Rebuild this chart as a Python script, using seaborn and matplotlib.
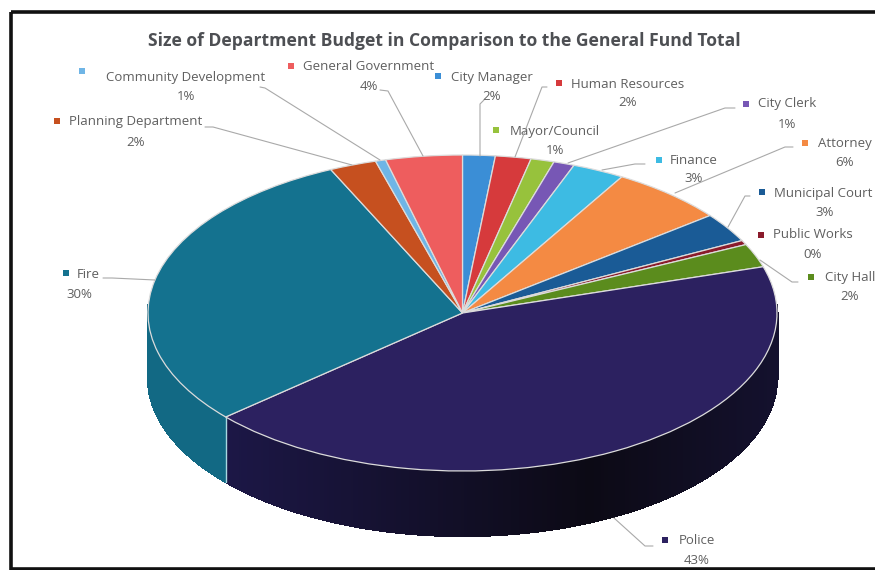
import numpy as np
import matplotlib
matplotlib.use("Agg")
import matplotlib.pyplot as plt
from matplotlib.colors import to_rgb
from matplotlib.patches import Rectangle
import seaborn as sns

TITLE = "Size of Department Budget in Comparison to the General Fund Total"

departments = ["City Manager", "Human Resources", "Mayor/Council", "City Clerk", "Finance",
               "Attorney", "Municipal Court", "Public Works", "City Hall", "Police", "Fire",
               "Planning Department", "Community Development", "General Government"]
budget_share = [1.67, 1.83, 1.2, 1.07, 2.69, 5.96, 3.0, 0.45, 2.4, 43.3, 29.55, 2.42, 0.53, 3.93]
slice_colors = ["#3b8ed6", "#d63a3c", "#97c23c", "#7757b5", "#3dbbe3", "#f48a43", "#1a5b96",
                "#8a1b2b", "#5b8c1d", "#2c2160", "#14728f", "#c6501f", "#6fb5e6", "#ee5d5e"]

# Label layout in pixels: name centre, percent centre, legend key, leader polyline
layout = {
    "City Manager": ((492, 77), (492, 97), (438, 76), [(484, 100), (480, 104), (480, 156)]),
    "Human Resources": ((628, 84), (628, 103), (559, 83), [(547, 87), (542, 87), (515, 157)]),
    "Mayor/Council": ((555, 131), (555, 151), (496, 130), None),
    "City Clerk": ((787, 104), (787, 124), (746, 104), [(735, 108), (725, 108), (568, 163)]),
    "Finance": ((694, 160), (694, 179), (659, 160), [(645, 164), (635, 164), (602, 170)]),
    "Attorney": ((845, 143), (845, 163), (805, 143), [(793, 147), (785, 147), (675, 193)]),
    "Municipal Court": ((823, 193), (825, 212), (762, 192), [(750, 196), (745, 196), (728, 227)]),
    "Public Works": ((813, 235), (813, 255), (761, 235), None),
    "City Hall": ((850, 278), (850, 297), (811, 277), [(798, 282), (792, 282), (760, 260)]),
    "Police": ((697, 540), (697, 560), (665, 540), [(653, 546), (645, 546), (614, 518)]),
    "Fire": ((88, 274), (79, 294), (66, 273), [(103, 278), (112, 278), (155, 280)]),
    "Planning Department": ((136, 122), (136, 142), (57, 121), [(205, 127), (213, 127), (352, 165)]),
    "Community Development": ((186, 77), (186, 97), (82, 71), [(260, 87), (265, 88), (380, 160)]),
    "General Government": ((369, 67), (369, 87), (291, 66), [(380, 90), (388, 91), (423, 156)]),
}

CX, CY, RX, RY, DEPTH = 462.5, 313.0, 314.5, 158.0, 65.0

sns.set_theme(style="white")
plt.rcParams["font.family"] = ["Open Sans", "DejaVu Sans"]
palette = sns.color_palette(slice_colors)

fig = plt.figure(figsize=(8.75, 5.7), dpi=100, facecolor="white")
ax = fig.add_axes([0, 0, 1, 1])

# Rim of the disc: overlapping strips along the front half of each slice,
# shaded by horizontal position
shares = np.array(budget_share) / sum(budget_share)
edges = np.concatenate([[0], np.cumsum(shares)]) * 2 * np.pi
drop = DEPTH / RY


def rim_shade(name, x):
    if name == "Police":
        dark = np.array(to_rgb("#0c0a15"))
        left = np.array(to_rgb("#1c1746"))
        right = np.array(to_rgb("#14112e"))
        if x < 0.4:
            return left + (dark - left) * np.clip((x + 0.75) / 1.15, 0, 1)
        return dark + (right - dark) * np.clip((x - 0.4) / 0.6, 0, 1)
    return np.array(palette[departments.index(name)]) * 0.92


for i, name in enumerate(departments):
    thetas = np.linspace(edges[i], edges[i + 1], max(2, int((edges[i + 1] - edges[i]) * 120)))
    for a, b in zip(thetas[:-1], thetas[1:]):
        if np.cos(a) > 0.05 and np.cos(b) > 0.05:
            continue
        xs = [np.sin(a), np.sin(b), np.sin(b), np.sin(a)]
        ys = [np.cos(a), np.cos(b), np.cos(b) - drop, np.cos(a) - drop]
        col = rim_shade(name, 0.5 * (np.sin(a) + np.sin(b)))
        ax.fill(xs, ys, facecolor=col, edgecolor=col, lw=0.9, antialiased=False, zorder=1)

# Seam where the two largest slices meet on the rim
seam = edges[departments.index("Police") + 1]
ax.plot([np.sin(seam)] * 2, [np.cos(seam), np.cos(seam) - drop], color="#a8d8e0", lw=1.0, zorder=2)

wedges, _ = ax.pie(budget_share, colors=palette, startangle=90, counterclock=False, radius=1,
                   wedgeprops={"edgecolor": "#dcdcdc", "linewidth": 0.9, "zorder": 3})
ax.set_aspect("auto")
ax.set_xlim((0 - CX) / RX, (875 - CX) / RX)
ax.set_ylim((CY - 570) / RY, (CY - 0) / RY)
ax.axis("off")

# Overlay in pixel coordinates for the frame, title and labels
ov = fig.add_axes([0, 0, 1, 1], facecolor="none")
ov.set_xlim(0, 875)
ov.set_ylim(570, 0)
ov.axis("off")

ov.add_patch(Rectangle((11, 12), 880, 557, fill=False, edgecolor="#111111", lw=2.6, zorder=6))
ov.text(444, 41, TITLE, ha="center", va="center", fontsize=12.6, fontweight="bold", color="#4d4f53")

text_color = "#5f5f5f"
for name, share, color in zip(departments, budget_share, palette):
    name_xy, pct_xy, key_xy, leader = layout[name]
    ov.text(*name_xy, name, ha="center", va="center", fontsize=9.5, color=text_color)
    ov.text(*pct_xy, f"{share:.0f}%", ha="center", va="center", fontsize=9.5, color=text_color)
    ov.plot(*key_xy, marker="s", ms=3.8, color=color, mew=0, ls="none", zorder=5)
    if leader is not None:
        ov.plot(*zip(*leader), color="#a9a9a9", lw=0.8, zorder=4)

fig.savefig("out.png", dpi=100, facecolor="white")
